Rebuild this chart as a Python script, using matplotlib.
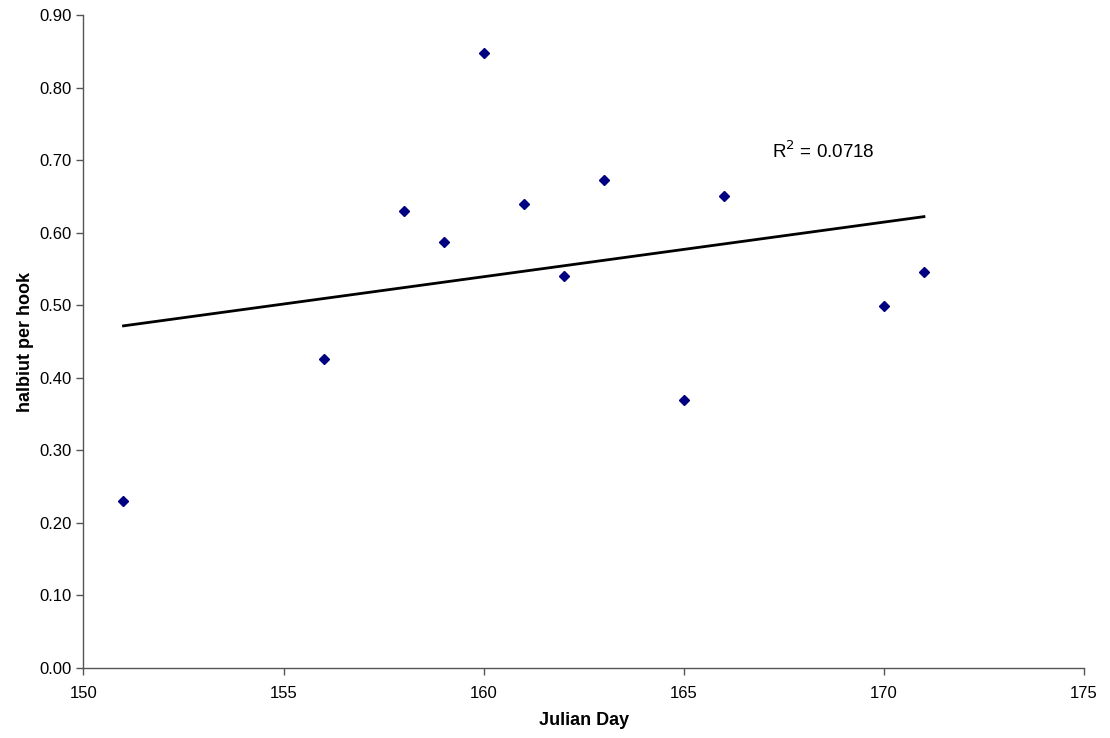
import numpy as np
import matplotlib
matplotlib.use("Agg")
import matplotlib.pyplot as plt

plt.rcParams['font.family'] = ['Liberation Sans', 'DejaVu Sans']

julian_day = [151, 156, 158, 159, 160, 161, 162, 163, 165, 166, 170, 171]
halibut_per_hook = [0.230, 0.426, 0.630, 0.588, 0.848, 0.640, 0.541, 0.673, 0.370, 0.651, 0.499, 0.546]
r2_label = "R$^2$ = 0.0718"

fig = plt.figure(figsize=(11.10, 7.38), dpi=100)
ax = fig.add_axes([0.0752, 0.0949, 0.9014, 0.8841])

x = np.array(julian_day, dtype=float)
y = np.array(halibut_per_hook, dtype=float)
m, b = np.polyfit(x, y, 1)
xl = np.array([x.min(), x.max()])
ax.plot(xl, m * xl + b, color='black', lw=2, zorder=2)
ax.plot(x, y, linestyle='none', marker='D', markersize=5, color='#000080', zorder=3)

ax.text(167.2, 0.713, r2_label, fontsize=13.5, ha='left', va='center')

ax.set_xlim(150, 175)
ax.set_ylim(0, 0.9)
ax.set_xticks(np.arange(150, 176, 5))
ax.set_yticks(np.arange(0, 0.91, 0.1))
ax.set_yticklabels([f"{v:.2f}" for v in np.arange(0, 0.91, 0.1)])
for s in ['top', 'right']:
    ax.spines[s].set_visible(False)
for s in ['left', 'bottom']:
    ax.spines[s].set_color('#555555')
    ax.spines[s].set_linewidth(1)
ax.tick_params(direction='out', length=5, width=1, color='#555555', labelsize=12)
ax.tick_params(axis='x', pad=8)
ax.set_xlabel('Julian Day', fontsize=13, fontweight='bold', labelpad=8)
ax.set_ylabel('halbiut per hook', fontsize=13, fontweight='bold', labelpad=4)

fig.savefig('out.png', dpi=100)
